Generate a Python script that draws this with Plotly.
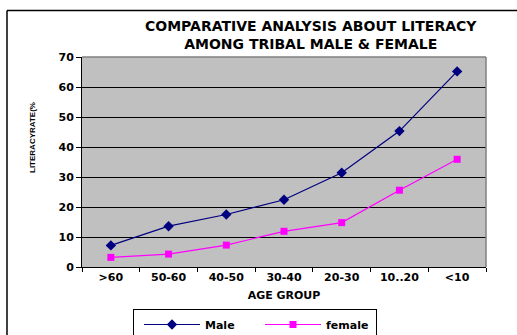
import plotly.graph_objects as go

age_groups = [">60", "50-60", "40-50", "30-40", "20-30", "10..20", "<10"]
male = [7.2, 13.6, 17.5, 22.4, 31.4, 45.3, 65.2]
female = [3.2, 4.3, 7.3, 11.9, 14.8, 25.6, 35.9]
y_ticks = [0, 10, 20, 30, 40, 50, 60, 70]

W, H = 517, 335
ml, mr, mt, mb = 82, 31, 57, 68
pw, ph = W - ml - mr, H - mt - mb

def px(x):
    return (x - ml) / pw

def py(y):
    return (H - mb - y) / ph

FONT = "DejaVu Sans"

fig = go.Figure()
fig.add_trace(go.Scatter(
    x=age_groups, y=male, name="Male", mode="lines+markers",
    line=dict(color="#000080", width=1.2),
    marker=dict(symbol="diamond", size=8, color="#000080"),
))
fig.add_trace(go.Scatter(
    x=age_groups, y=female, name="female", mode="lines+markers",
    line=dict(color="#FF00FF", width=1.2),
    marker=dict(symbol="square", size=7, color="#FF00FF"),
))

fig.update_layout(
    width=W, height=H,
    margin=dict(l=ml, r=mr, t=mt, b=mb, autoexpand=False),
    paper_bgcolor="white",
    plot_bgcolor="#C0C0C0",
    showlegend=True,
    legend=dict(
        orientation="h", x=px(133), y=py(309), xanchor="left", yanchor="top",
        bordercolor="black", borderwidth=1, bgcolor="white",
        font=dict(family=FONT, size=11, color="black", weight="bold"),
        entrywidth=45, entrywidthmode="pixels",
        itemwidth=56, tracegroupgap=0, indentation=5,
    ),
    xaxis=dict(
        type="category", range=[-0.5, 6.5],
        showline=True, linecolor="black", linewidth=1,
        ticks="outside", ticklen=4, tickcolor="black", tickson="boundaries",
        showgrid=False, zeroline=False,
        tickfont=dict(family=FONT, size=11, color="black", weight="bold"),
        title=dict(text="AGE GROUP", standoff=8,
                   font=dict(family=FONT, size=11, color="black", weight="bold")),
    ),
    yaxis=dict(
        range=[0, 70], tickvals=y_ticks,
        showline=True, linecolor="black", linewidth=1,
        ticks="outside", ticklen=5, tickcolor="black",
        showgrid=True, gridcolor="black", gridwidth=1, zeroline=False,
        tickfont=dict(family=FONT, size=11, color="black", weight="bold"),
    ),
    annotations=[
        dict(
            text="COMPARATIVE ANALYSIS ABOUT LITERACY<br>AMONG TRIBAL MALE & FEMALE",
            xref="paper", yref="paper", x=px(311), y=py(16), xanchor="center", yanchor="top",
            showarrow=False, align="center",
            font=dict(family=FONT, size=14, color="black", weight="bold"),
        ),
        dict(
            text="LITERACYRATE(%",
            xref="paper", yref="paper", x=px(32), y=py(138), xanchor="center", yanchor="middle",
            showarrow=False, textangle=-90,
            font=dict(family="Liberation Sans", size=8, color="black", weight="bold"),
        ),
    ],
    shapes=[
        dict(type="line", xref="paper", yref="paper", x0=0, x1=1, y0=1, y1=1,
             line=dict(color="#808080", width=1.5)),
        dict(type="line", xref="paper", yref="paper", x0=1, x1=1, y0=0, y1=1,
             line=dict(color="#808080", width=1.5)),
        dict(type="line", xref="paper", yref="paper", x0=px(7), x1=px(520), y0=py(10.5), y1=py(10.5),
             line=dict(color="black", width=1.5)),
        dict(type="line", xref="paper", yref="paper", x0=px(7), x1=px(7), y0=py(10.5), y1=py(340),
             line=dict(color="black", width=1.5)),
    ],
)

fig.write_html("out.html", config={"displayModeBar": False},
               post_script="document.body.style.margin='0';document.body.style.padding='0';")
